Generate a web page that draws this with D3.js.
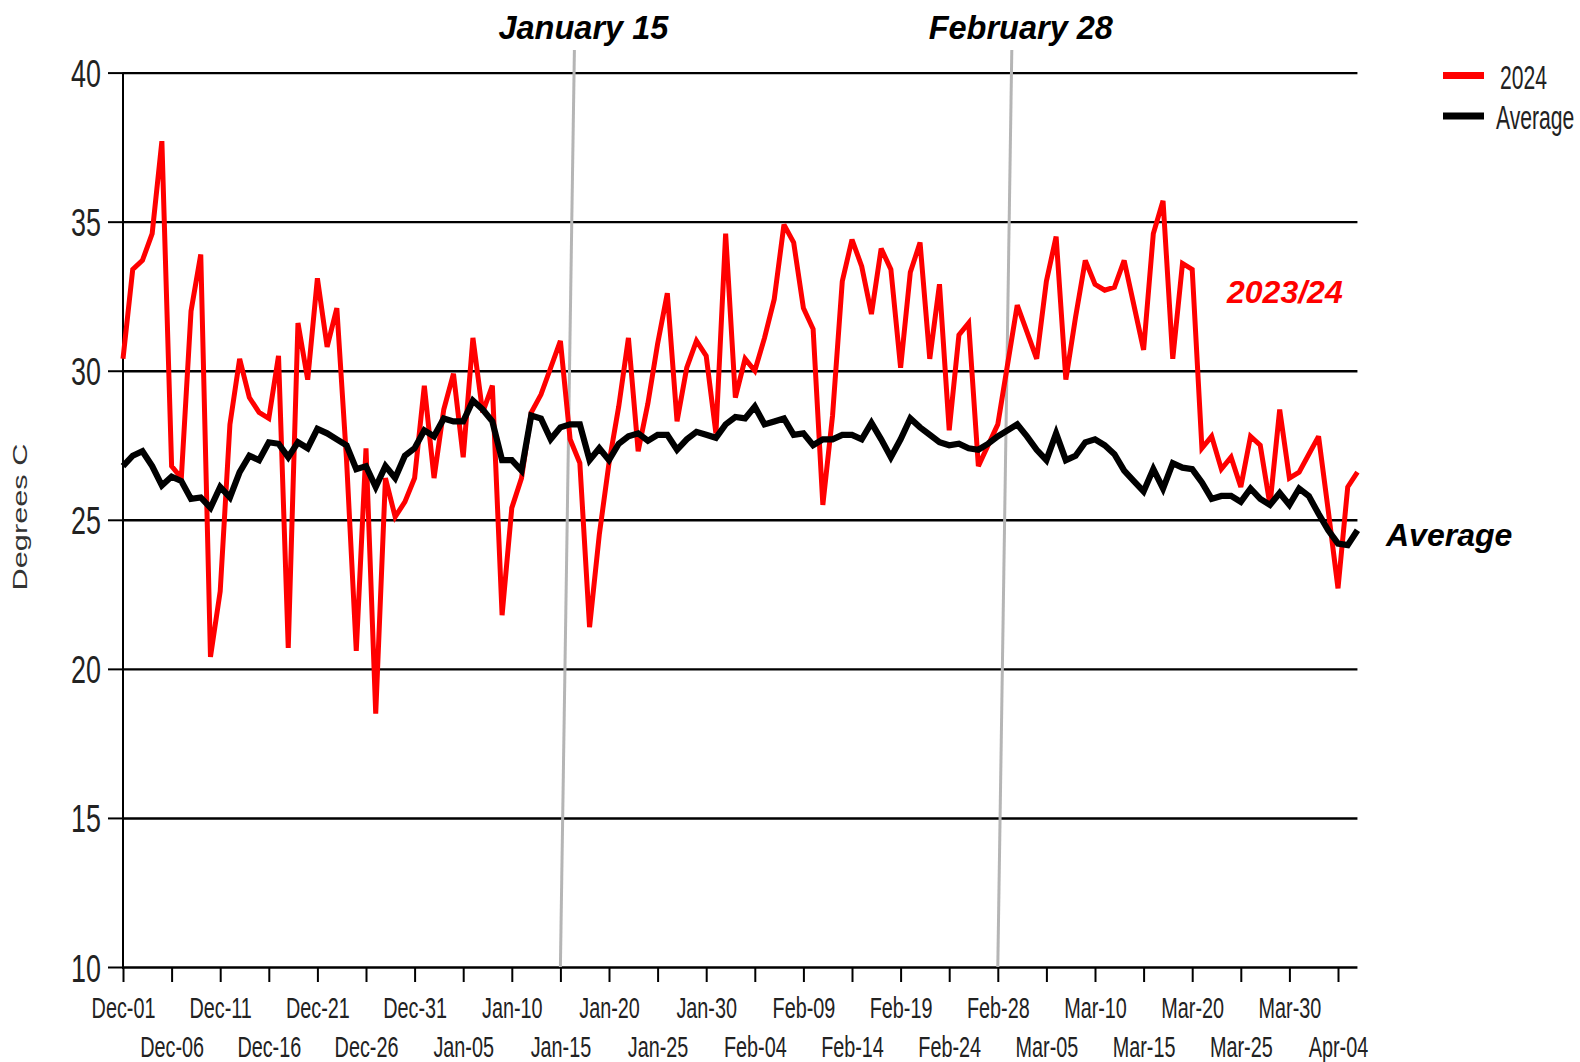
<!DOCTYPE html>
<html>
<head>
<meta charset="utf-8">
<script src="https://cdn.jsdelivr.net/npm/d3@7"></script>
<style>
  html, body { margin: 0; padding: 0; background: #fff; }
  text { font-family: "Liberation Sans", Arial, sans-serif; }
</style>
</head>
<body>
<script>
// ---------- data ----------
// daily values, Dec-01 (index 0) to Apr-06 (index 127)
const series2024 = [
  30.4, 33.4, 33.7, 34.6, 37.7, 26.8, 26.4, 32.0, 33.9, 20.4,
  22.6, 28.2, 30.4, 29.1, 28.6, 28.4, 30.5, 20.7, 31.6, 29.7,
  33.1, 30.8, 32.1, 27.0, 20.6, 27.4, 18.5, 26.4, 25.1, 25.6,
  26.4, 29.5, 26.4, 28.7, 29.9, 27.1, 31.1, 28.6, 29.5, 21.8,
  25.4, 26.4, 28.6, 29.2, 30.1, 31.0, 27.7, 26.9, 21.4, 24.5,
  26.9, 28.8, 31.1, 27.3, 28.9, 30.9, 32.6, 28.3, 30.1, 31.0,
  30.5, 27.9, 34.6, 29.1, 30.4, 30.0, 31.1, 32.4, 34.9, 34.3,
  32.1, 31.4, 25.5, 28.5, 33.0, 34.4, 33.5, 31.9, 34.1, 33.4,
  30.1, 33.3, 34.3, 30.4, 32.9, 28.0, 31.2, 31.6, 26.8, 27.5,
  28.2, 30.2, 32.2, 31.3, 30.4, 33.0, 34.5, 29.7, 31.8, 33.7,
  32.9, 32.7, 32.8, 33.7, 32.2, 30.7, 34.6, 35.7, 30.4, 33.6,
  33.4, 27.4, 27.8, 26.7, 27.1, 26.1, 27.8, 27.5, 25.5, 28.7,
  26.4, 26.6, 27.2, 27.8, 25.3, 22.7, 26.1, 26.6
];
const seriesAverage = [
  26.8, 27.15, 27.3, 26.8, 26.15, 26.45, 26.3, 25.7, 25.75, 25.4,
  26.1, 25.75, 26.6, 27.15, 27.0, 27.6, 27.55, 27.1, 27.6, 27.4,
  28.05, 27.9, 27.7, 27.5, 26.7, 26.8, 26.1, 26.8, 26.4, 27.15,
  27.4, 28.0, 27.8, 28.4, 28.3, 28.3, 29.0, 28.7, 28.3, 27.0,
  27.0, 26.65, 28.5, 28.4, 27.7, 28.1, 28.2, 28.2, 27.0, 27.4,
  27.0, 27.55, 27.8, 27.9, 27.65, 27.85, 27.85, 27.35, 27.7, 27.95,
  27.85, 27.75, 28.2, 28.45, 28.4, 28.8, 28.2, 28.3, 28.4, 27.85,
  27.9, 27.5, 27.7, 27.7, 27.85, 27.85, 27.7, 28.25, 27.7, 27.1,
  27.7, 28.4, 28.1, 27.85, 27.6, 27.5, 27.55, 27.4, 27.35, 27.55,
  27.8, 28.0, 28.2, 27.8, 27.35, 27.0, 27.9, 27.0, 27.15, 27.6,
  27.7, 27.5, 27.2, 26.65, 26.3, 25.95, 26.7, 26.05, 26.9, 26.75,
  26.7, 26.25, 25.7, 25.8, 25.8, 25.6, 26.05, 25.7, 25.5, 25.9,
  25.5, 26.05, 25.8, 25.2, 24.65, 24.2, 24.15, 24.65
];
const xTickLabels = [
  "Dec-01","Dec-06","Dec-11","Dec-16","Dec-21","Dec-26","Dec-31",
  "Jan-05","Jan-10","Jan-15","Jan-20","Jan-25","Jan-30",
  "Feb-04","Feb-09","Feb-14","Feb-19","Feb-24","Feb-28",
  "Mar-05","Mar-10","Mar-15","Mar-20","Mar-25","Mar-30","Apr-04"
];
const yTickValues = [10, 15, 20, 25, 30, 35, 40];
const markerDays = [45, 90];
const markerLabels = ["January 15", "February 28"];
const legendLabels = ["2024", "Average"];
const seriesColors = ["#ff0000", "#000000"];

// ---------- layout ----------
const W = 1580, H = 1062;
const x = d3.scaleLinear().domain([0, 125]).range([123, 1338]);
const y = d3.scaleLinear().domain([10, 40]).range([967, 72.6]);
const lastIdx = series2024.length - 1;
const xRight = x(lastIdx);

const svg = d3.select("body").append("svg")
  .attr("width", W).attr("height", H)
  .attr("viewBox", `0 0 ${W} ${H}`);
svg.append("rect").attr("width", W).attr("height", H).attr("fill", "#fff");

// horizontal gridlines
const grid = svg.append("g").attr("transform", `translate(${x(0)},0)`)
  .call(d3.axisLeft(y).tickValues(yTickValues).tickSize(-(xRight - x(0))).tickFormat(""));
grid.select(".domain").remove();
grid.selectAll("line").attr("stroke", "#000").attr("stroke-width", 2.4);

// y axis ticks + labels
const yAxis = svg.append("g").attr("transform", `translate(${x(0)},0)`)
  .call(d3.axisLeft(y).tickValues(yTickValues).tickSize(15).tickFormat(d3.format("d")));
yAxis.select(".domain").remove();
yAxis.selectAll("line").attr("stroke", "#000").attr("stroke-width", 2);
const ySX = 0.69;
yAxis.selectAll("text")
  .attr("x", -22 / ySX)
  .attr("dy", "0.36em")
  .attr("transform", `scale(${ySX},1)`)
  .attr("font-size", 39)
  .attr("fill", "#222")
  .style("font-family", "'Liberation Sans', Arial, sans-serif");

// y axis vertical line
svg.append("line")
  .attr("x1", x(0)).attr("x2", x(0))
  .attr("y1", y(40)).attr("y2", y(10) + 2)
  .attr("stroke", "#000").attr("stroke-width", 2);

// x axis ticks + labels
const xAxis = svg.append("g").attr("transform", `translate(0,${y(10)})`)
  .call(d3.axisBottom(x).tickValues(d3.range(0, 126, 5)).tickSize(15).tickSizeOuter(0)
    .tickFormat((d, i) => xTickLabels[i]));
xAxis.select(".domain").remove();
xAxis.selectAll("line").attr("stroke", "#000").attr("stroke-width", 2);
const xSX = 0.66;
xAxis.selectAll("text")
  .attr("y", (d, i) => (i % 2 === 0 ? 51 : 90))
  .attr("dy", 0)
  .attr("transform", `scale(${xSX},1)`)
  .attr("font-size", 30)
  .attr("fill", "#222")
  .style("font-family", "'Liberation Sans', Arial, sans-serif");

// marker lines (slanted as in reference)
const lean = 14;
markerDays.forEach((d, i) => {
  svg.append("line")
    .attr("x1", x(d)).attr("y1", y(10))
    .attr("x2", x(d) + lean).attr("y2", 50)
    .attr("stroke", "#b5b5b5").attr("stroke-width", 3);
  svg.append("text")
    .attr("x", x(d) + lean + 9).attr("y", 38.5)
    .attr("text-anchor", "middle")
    .attr("font-size", 32.5).attr("font-weight", "bold").attr("font-style", "italic")
    .attr("fill", "#000")
    .text(markerLabels[i]);
});

// lines
const line = d3.line().x((d, i) => x(i)).y(d => y(d)).curve(d3.curveLinear);
svg.append("path").datum(series2024)
  .attr("d", line).attr("fill", "none")
  .attr("stroke", seriesColors[0]).attr("stroke-width", 5)
  .attr("stroke-linejoin", "miter").attr("stroke-miterlimit", 3);
svg.append("path").datum(seriesAverage)
  .attr("d", line).attr("fill", "none")
  .attr("stroke", seriesColors[1]).attr("stroke-width", 6.2)
  .attr("stroke-linejoin", "miter").attr("stroke-miterlimit", 3);

// y axis title
svg.append("text")
  .attr("transform", "translate(27,517) rotate(-90) scale(1.5,1)")
  .attr("text-anchor", "middle")
  .attr("font-size", 20.5)
  .attr("fill", "#333")
  .text("Degrees C");

// in-chart labels
svg.append("text")
  .attr("x", 1227).attr("y", 303)
  .attr("font-size", 32).attr("font-weight", "bold").attr("font-style", "italic")
  .attr("fill", "#ff0000")
  .text("2023/24");
svg.append("text")
  .attr("x", 1386).attr("y", 546)
  .attr("font-size", 32).attr("font-weight", "bold").attr("font-style", "italic")
  .attr("fill", "#000")
  .text("Average");

// legend
const legend = svg.append("g");
const legY = [75.5, 116];
const legBase = [89, 129];
const legX = [1500, 1496];
legendLabels.forEach((lab, i) => {
  legend.append("line")
    .attr("x1", 1443).attr("x2", 1484)
    .attr("y1", legY[i]).attr("y2", legY[i])
    .attr("stroke", seriesColors[i]).attr("stroke-width", 7);
  legend.append("text")
    .attr("transform", `translate(${legX[i]},${legBase[i]}) scale(0.64,1)`)
    .attr("font-size", 33)
    .attr("fill", "#222")
    .text(lab);
});
</script>
</body>
</html>
